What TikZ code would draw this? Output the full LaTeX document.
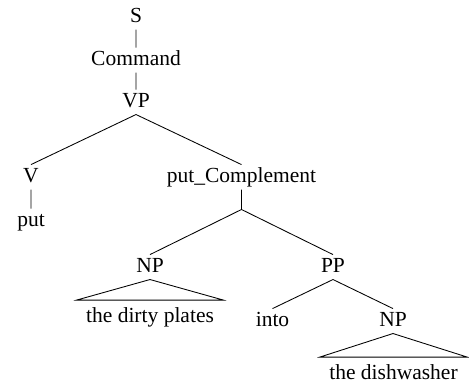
\documentclass[tikz,border=0pt]{standalone}
\usepackage{fontspec}
\setmainfont{Liberation Serif}
\usetikzlibrary{positioning}
\begin{document}
\begin{tikzpicture}[x=0.4651pt,y=-0.4651pt,font=\fontsize{10}{12}\selectfont,
	every node/.style={inner sep=0pt,anchor=base,text height=7.9pt,text depth=3.3pt},
	leaf/.style={inner xsep=4.2pt,text height=10pt}]
		\useasboundingbox (0,0) rectangle (469,383);
		\node (s) at (136,22) {S};
		\node (cmd) at (136,65) {Command};
		\node (vp) at (136,107) {VP};
		\node (v) at (31,182) {V};
		\node (put) at (31,226) {put};
		\node (pc) at (241.5,182) {put\_Complement};
		\coordinate (pc_b) at (241.5,209.5);
		\node (np_1) at (150,272) {NP};
		\node (pp) at (333,272) {PP};
		\node[leaf] (dp) at (150,322) {the dirty plates};
		\node (into) at (272.5,326) {into};
		\node (np_2) at (393,326) {NP};
		\node[leaf] (dw) at (393.5,379) {the dishwasher};
		\draw (s) -- (cmd) (cmd) -- (vp)
			(vp.south) -- (v.north) (vp.south) -- (pc.north)
			(v) -- (put)
			(pc.south) -- (pc_b) -- (np_1.north) (pc_b) -- (pp.north)
			(pp.south) -- (into.north) (pp.south) -- (np_2.north);
		\draw (np_1.south) -- (dp.north west) -- (dp.north east) -- cycle;
		\draw (np_2.south) -- (dw.north west) -- (dw.north east) -- cycle;
	\end{tikzpicture}
\end{document}
